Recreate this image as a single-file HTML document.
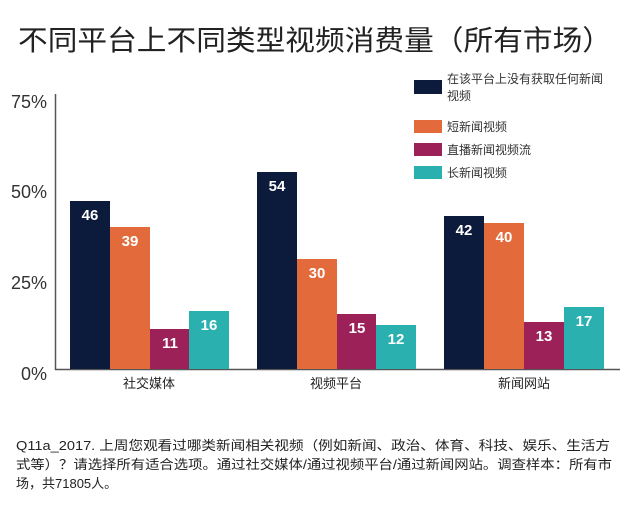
<!DOCTYPE html>
<html><head><meta charset="utf-8"><style>
body{margin:0;background:#fff;width:630px;height:523px;overflow:hidden;font-family:"Liberation Sans","Noto Sans CJK SC",sans-serif;}
</style></head><body>
<svg width="630" height="523" xmlns="http://www.w3.org/2000/svg" font-family="Liberation Sans, Noto Sans CJK SC, sans-serif">
<text x="18" y="50" textLength="594" lengthAdjust="spacingAndGlyphs" font-size="28" fill="#222">不同平台上不同类型视频消费量（所有市场）</text>
<g font-size="18" fill="#333" text-anchor="end">
<text x="47" y="108">75%</text><text x="47" y="198">50%</text><text x="47" y="289">25%</text><text x="47" y="380">0%</text>
</g>
<line x1="55.5" y1="94" x2="55.5" y2="370" stroke="#555" stroke-width="1.5"/>
<line x1="55" y1="369.5" x2="620" y2="369.5" stroke="#555" stroke-width="1.5"/>
<g>
<rect x="70" y="201" width="40" height="168" fill="#0c1a3c"/>
<rect x="110" y="227" width="40" height="142" fill="#e36b3b"/>
<rect x="150" y="329" width="39" height="40" fill="#9b2158"/>
<rect x="189" y="311" width="40" height="58" fill="#2bb0b0"/>
<rect x="257" y="172" width="40" height="197" fill="#0c1a3c"/>
<rect x="297" y="259" width="40" height="110" fill="#e36b3b"/>
<rect x="337" y="314" width="39" height="55" fill="#9b2158"/>
<rect x="376" y="325" width="40" height="44" fill="#2bb0b0"/>
<rect x="444" y="216" width="40" height="153" fill="#0c1a3c"/>
<rect x="484" y="223" width="40" height="146" fill="#e36b3b"/>
<rect x="524" y="322" width="40" height="47" fill="#9b2158"/>
<rect x="564" y="307" width="40" height="62" fill="#2bb0b0"/>
</g>
<g font-size="15" font-weight="bold" fill="#fff" text-anchor="middle">
<text x="90" y="220">46</text><text x="130" y="246">39</text><text x="170" y="348">11</text><text x="209" y="330">16</text>
<text x="277" y="191">54</text><text x="317" y="278">30</text><text x="357" y="333">15</text><text x="396" y="344">12</text>
<text x="464" y="235">42</text><text x="504" y="242">40</text><text x="544" y="341">13</text><text x="584" y="326">17</text>
</g>
<g font-size="13" fill="#222" text-anchor="middle">
<text x="149" y="388">社交媒体</text><text x="336" y="388">视频平台</text><text x="524" y="388">新闻网站</text>
</g>
<rect x="414" y="80" width="28" height="14" fill="#0c1a3c"/>
<rect x="414" y="120" width="28" height="13" fill="#e36b3b"/>
<rect x="414" y="143" width="28" height="13" fill="#9b2158"/>
<rect x="414" y="166" width="28" height="13" fill="#2bb0b0"/>
<g font-size="12" fill="#333">
<text x="447" y="83">在该平台上没有获取任何新闻</text><text x="447" y="100">视频</text>
<text x="447" y="131">短新闻视频</text><text x="447" y="154">直播新闻视频流</text><text x="447" y="177">长新闻视频</text>
</g>
<g font-size="13" fill="#222">
<text x="16" y="450" textLength="594" lengthAdjust="spacingAndGlyphs">Q11a_2017. 上周您观看过哪类新闻相关视频（例如新闻、政治、体育、科技、娱乐、生活方</text>
<text x="16" y="469" textLength="596" lengthAdjust="spacingAndGlyphs">式等）？请选择所有适合选项。通过社交媒体/通过视频平台/通过新闻网站。调查样本：所有市</text>
<text x="16" y="488">场，共71805人。</text>
</g>
</svg>
</body></html>
